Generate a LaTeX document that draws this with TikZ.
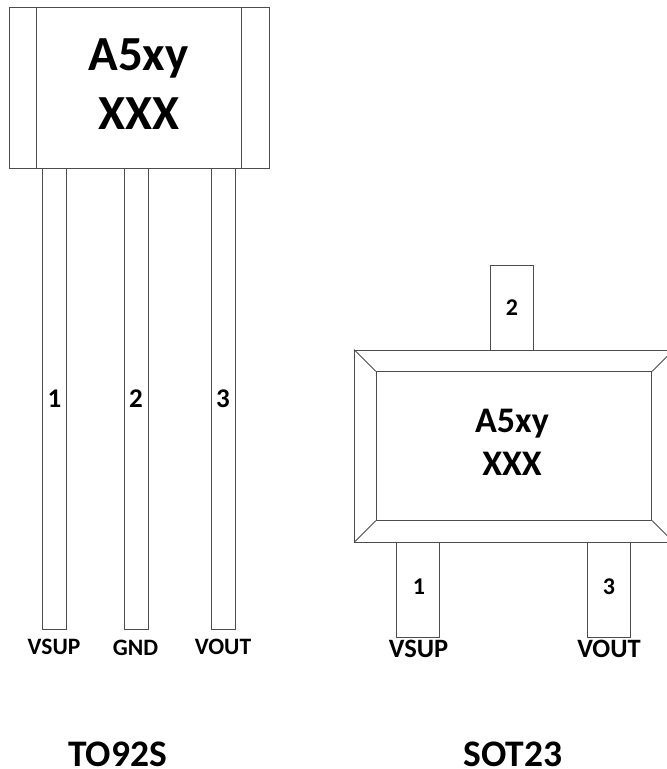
\documentclass[tikz,border=0pt]{standalone}
\usepackage{fontspec}
\setmainfont{Carlito}
\tikzset{
  part/.style={draw=black!70, line width=0.9pt, rectangle, inner sep=0pt},
  pinlabel/.style={font=\bfseries\fontsize{27}{32}\selectfont, inner sep=0pt},
  padlabel/.style={font=\bfseries\fontsize{24}{28}\selectfont, inner sep=0pt},
  signal/.style={font=\bfseries\fontsize{23.5}{28}\selectfont, inner sep=0pt},
  padsignal/.style={font=\bfseries\fontsize{26.5}{32}\selectfont, inner sep=0pt},
  bigmark/.style={font=\bfseries\fontsize{49}{59}\selectfont, inner sep=0pt, align=center},
  smallmark/.style={font=\bfseries\fontsize{36}{43}\selectfont, inner sep=0pt, align=center},
  pkgname/.style={font=\bfseries\fontsize{37.5}{44}\selectfont, inner sep=0pt, anchor=base}
}
\begin{document}
\begin{tikzpicture}[x=1pt,y=-1pt]
  \useasboundingbox (0,0) rectangle (667,769);
  \clip (0,0) rectangle (667,769);
  % TO92S
  \node at (54,398.5) [part, minimum width=24pt, minimum height=461pt] (leadA) {};
  \node at (136,398.5) [part, minimum width=24pt, minimum height=461pt] (leadB) {};
  \node at (223,398.5) [part, minimum width=24pt, minimum height=461pt] (leadC) {};
  \node at (139,87.5) [part, minimum width=260pt, minimum height=161pt] (body) {};
  \draw[black!70, line width=0.9pt] (36.5,7) -- (36.5,168);
  \draw[black!70, line width=0.9pt] (241,7) -- (241,168);
  \node at (138.5,84) [bigmark] (markA) {A5xy\\XXX};
  \node at (54.5,398.5) [pinlabel] (numA) {1};
  \node at (136,398.5) [pinlabel] (numB) {2};
  \node at (223,398.5) [pinlabel] (numC) {3};
  \node at (54,646.5) [signal] (sigA) {VSUP};
  \node at (135.5,647.5) [signal] (sigB) {GND};
  \node at (223,646.5) [signal] (sigC) {VOUT};
  % SOT23
  \node at (512,307.5) [part, minimum width=43pt, minimum height=85pt] (padB) {};
  \node at (418,589.5) [part, minimum width=43pt, minimum height=95pt] (padA) {};
  \node at (609,589.5) [part, minimum width=43pt, minimum height=95pt] (padC) {};
  \node at (514,446) [part, fill=white, minimum width=319pt, minimum height=192pt] (case) {};
  \node at (514,446) [part, minimum width=275.5pt, minimum height=148.5pt] (top) {};
  \foreach \c in {north west, north east, south west, south east}
    \draw[black!70, line width=0.9pt] (case.\c) -- (top.\c);
  \node at (512,442) [smallmark] (markB) {A5xy\\XXX};
  \node at (512,308) [padlabel] (numE) {2};
  \node at (419,587) [padlabel] (numD) {1};
  \node at (609,587) [padlabel] (numF) {3};
  \node at (418.5,648.5) [padsignal] (sigD) {VSUP};
  \node at (609,648.5) [padsignal] (sigF) {VOUT};
  % names
  \node at (117.5,766) [pkgname] (nameA) {TO92S};
  \node at (513,766) [pkgname] (nameB) {SOT23};
\end{tikzpicture}
\end{document}
